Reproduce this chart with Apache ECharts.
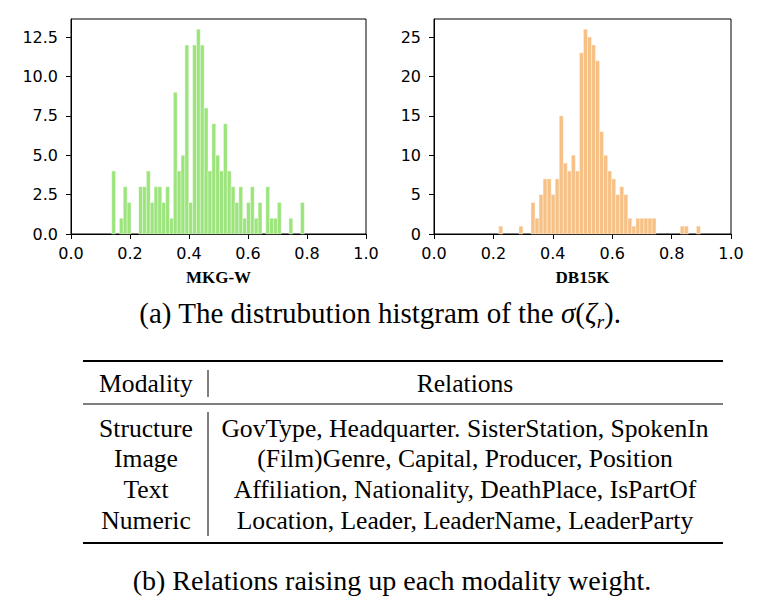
<!DOCTYPE html>
<html>
<head>
<meta charset="utf-8">
<script src="https://cdn.jsdelivr.net/npm/echarts@6/dist/echarts.min.js"></script>
<style>
  html, body { margin: 0; padding: 0; background: #fff; }
  #chart { width: 764px; height: 597px; }
</style>
</head>
<body>
<div id="chart"></div>
<script>
// histogram counts, 50 equal bins between the range ends
const mkgCounts = [4, 0, 1, 3, 2, 0, 0, 3, 3, 4, 2, 3, 3, 2, 3, 1, 9, 4, 5, 12,
  2, 12, 13, 12, 8, 4, 7, 5, 4, 7, 4, 3, 2, 3, 1, 2, 3, 1, 2, 0,
  3, 1, 1, 2, 0, 0, 1, 0, 0, 2];
const mkgRange = [0.138, 0.791];
const dbCounts = [1, 0, 0, 0, 0, 1, 0, 0, 4, 2, 5, 7, 7, 5, 7, 15, 9, 8, 10, 8,
  23, 26, 25, 24, 22, 13, 10, 8, 7, 5, 6, 5, 2, 1, 2, 2, 2, 2, 2, 0,
  0, 0, 0, 0, 0, 1, 1, 0, 0, 1];
const dbRange = [0.218, 0.897];
const panelNames = ['MKG-W', 'DB15K'];

const modalities = ['Structure', 'Image', 'Text', 'Numeric'];
const relations = [
  'GovType, Headquarter. SisterStation, SpokenIn',
  '(Film)Genre, Capital, Producer, Position',
  'Affiliation, Nationality, DeathPlace, IsPartOf',
  'Location, Leader, LeaderName, LeaderParty',
];
const tableHeader = ['Modality', 'Relations'];
const captionB = '(b) Relations raising up each modality weight.';

const TICK_FONT = 'DejaVu Sans';
const SERIF = 'Liberation Serif';

function binData(counts, range) {
  const w = (range[1] - range[0]) / counts.length;
  return counts.map((c, i) => [range[0] + i * w, range[0] + (i + 1) * w, c]);
}

function histSeries(counts, range, color, idx) {
  return {
    type: 'custom',
    xAxisIndex: idx,
    yAxisIndex: idx,
    data: binData(counts, range),
    encode: { x: [0, 1], y: 2 },
    renderItem(params, api) {
      if (!api.value(2)) return;
      const p0 = api.coord([api.value(0), api.value(2)]);
      const p1 = api.coord([api.value(1), 0]);
      return {
        type: 'rect',
        shape: { x: p0[0], y: p0[1], width: p1[0] - p0[0], height: p1[1] - p0[1] },
        style: { fill: color, stroke: 'rgba(255,255,255,0.55)', lineWidth: 0.7 },
      };
    },
  };
}

function xAxis(idx) {
  return {
    type: 'value', gridIndex: idx, min: 0, max: 1, interval: 0.2,
    name: panelNames[idx], nameLocation: 'middle', nameGap: 35,
    nameTextStyle: { fontFamily: SERIF, fontWeight: 'bold', fontSize: 17, color: '#000' },
    axisLine: { lineStyle: { color: '#000', width: 1 } },
    axisTick: { length: 5, lineStyle: { color: '#000' } },
    axisLabel: { fontFamily: TICK_FONT, fontSize: 16, color: '#000', margin: 11,
      formatter: v => v.toFixed(1) },
    splitLine: { show: false },
  };
}

function yAxis(idx, max, interval, fmt) {
  return {
    type: 'value', gridIndex: idx, min: 0, max, interval,
    axisLine: { show: true, lineStyle: { color: '#000', width: 1 } },
    axisTick: { show: true, length: 5, lineStyle: { color: '#000' } },
    axisLabel: { fontFamily: TICK_FONT, fontSize: 16, color: '#000', margin: 13,
      showMaxLabel: false, formatter: fmt },
    splitLine: { show: false },
  };
}

const chart = echarts.init(document.getElementById('chart'), null, { renderer: 'svg' });

const graphic = [];
function text(x, y, str, size, extra) {
  graphic.push({
    type: 'text', x, y,
    style: Object.assign({ text: str, fontSize: size, fontFamily: SERIF, fill: '#000',
      align: 'center', verticalAlign: 'middle' }, extra || {}),
  });
}
function line(x1, y1, x2, y2, w) {
  graphic.push({ type: 'line', shape: { x1, y1, x2, y2 }, style: { stroke: '#000', lineWidth: w } });
}

// caption (a)
text(380, 313, '(a) The distrubution histgram of the {i|σ}({i|ζ}{s|r}).', 29, {
  rich: {
    i: { fontFamily: SERIF, fontStyle: 'italic', fontSize: 29 },
    s: { fontFamily: SERIF, fontStyle: 'italic', fontSize: 19, padding: [16, 0, 0, 0] },
  },
});

// table
line(83, 361, 723, 361, 2);
line(83, 404, 723, 404, 1.2);
line(83, 543, 723, 543, 2);
line(208, 370, 208, 397, 1);
line(208, 412, 208, 536, 1);
text(146, 383, tableHeader[0], 25.6);
text(465, 383, tableHeader[1], 25.6);
const rowY = [428, 458.5, 489, 520];
modalities.forEach((m, i) => {
  text(146, rowY[i], m, 25.6);
  text(465, rowY[i], relations[i], 25.6);
});
text(392, 580, captionB, 28);

chart.setOption({
  animation: false,
  grid: [
    { left: 71, top: 19, width: 295, height: 215, show: true, borderColor: '#000', borderWidth: 1 },
    { left: 434, top: 19, width: 297, height: 215, show: true, borderColor: '#000', borderWidth: 1 },
  ],
  xAxis: [xAxis(0), xAxis(1)],
  yAxis: [
    yAxis(0, 13.65, 2.5, v => v.toFixed(1)),
    yAxis(1, 27.3, 5, v => String(v)),
  ],
  series: [
    histSeries(mkgCounts, mkgRange, '#9ce47c', 0),
    histSeries(dbCounts, dbRange, '#f7c185', 1),
  ],
  graphic,
});
</script>
</body>
</html>
